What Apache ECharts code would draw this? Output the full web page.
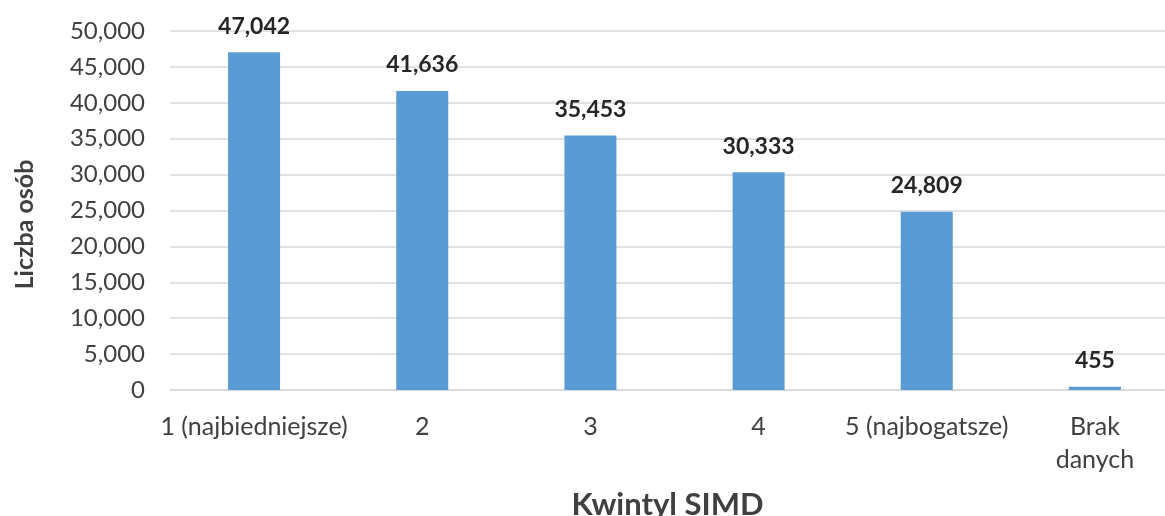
<!DOCTYPE html>
<html>
<head>
<meta charset="utf-8">
<script src="https://cdn.jsdelivr.net/npm/echarts@6/dist/echarts.min.js"></script>
<style>
html,body{margin:0;padding:0;background:#fff;overflow:hidden}
#wrap{position:relative;width:1165px;height:516px;overflow:hidden}
#c{position:absolute;left:0;top:0;width:1180px;height:516px}
</style>
</head>
<body>
<div id="wrap"><div id="c"></div></div>
<script>
const categories = ['1 (najbiedniejsze)', '2', '3', '4', '5 (najbogatsze)', 'Brak\ndanych'];
const values = [47042, 41636, 35453, 30333, 24809, 455];
const yTicks = { min: 0, max: 50000, interval: 5000 };
const xTitle = 'Kwintyl SIMD';
const yTitle = 'Liczba osób';

const fmt = v => String(v).replace(/\B(?=(\d{3})+(?!\d))/g, ',');
const FONT = 'Lato';
const chart = echarts.init(document.getElementById('c'), null, { renderer: 'canvas' });
chart.setOption({
  animation: false,
  grid: { left: 170, top: 31, width: 1009, height: 359, containLabel: false, outerBoundsMode: 'none' },
  xAxis: {
    type: 'category',
    data: categories,
    name: xTitle,
    nameLocation: 'middle',
    nameGap: 99,
    nameTextStyle: { fontFamily: FONT, fontSize: 31, fontWeight: 'bold', color: '#404040', padding: [0, 14, 0, 0] },
    axisLine: { lineStyle: { color: '#d9d9d9', width: 1.5 } },
    axisTick: { show: false },
    axisLabel: { fontFamily: FONT, fontSize: 25, color: '#404040', margin: 20, lineHeight: 33, interval: 0 }
  },
  yAxis: {
    type: 'value',
    min: yTicks.min, max: yTicks.max, interval: yTicks.interval,
    name: yTitle,
    nameLocation: 'middle',
    nameGap: 133,
    nameRotate: 90,
    nameTextStyle: { fontFamily: FONT, fontSize: 25, fontWeight: 'bold', color: '#404040', padding: [0, 28, 0, 0] },
    axisLine: { show: false },
    axisTick: { show: false },
    splitLine: { lineStyle: { color: '#d9d9d9', width: 1.5 } },
    axisLabel: { fontFamily: FONT, fontSize: 24, color: '#404040', margin: 25, formatter: fmt }
  },
  series: [{
    type: 'bar',
    data: values,
    barWidth: 52,
    itemStyle: { color: '#5b9bd5' },
    label: {
      show: true, position: 'top', distance: 14,
      fontFamily: FONT, fontSize: 23, fontWeight: 'bold', color: '#262626', lineHeight: 24,
      formatter: p => fmt(p.value)
    }
  }]
});
</script>
</body>
</html>
